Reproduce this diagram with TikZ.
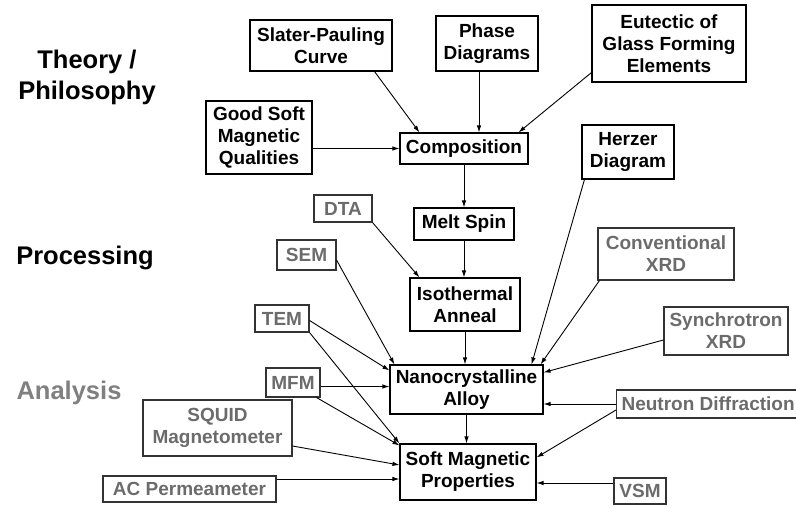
\documentclass[tikz,border=0pt]{standalone}
\usepackage{fontspec}
\setmainfont{Liberation Sans}
\usetikzlibrary{arrows.meta}

\begin{document}
\begin{tikzpicture}[x=1pt, y=-1pt,
  every node/.style={font=\bfseries\fontsize{19}{22}\selectfont},
  blk/.style={draw, line width=1.1pt, align=center, inner sep=1pt},
  ana/.style={blk, draw=black!80, text=black!58},
  lab/.style={align=center, font=\bfseries\fontsize{25.5}{31}\selectfont},
  arr/.style={-{Latex[length=7pt,width=4.5pt]}, line width=0.9pt}]
  \useasboundingbox (0,0) rectangle (796,507);
  % Stage labels
  \node[lab] (theory) at (87,77) {Theory /\\Philosophy};
  \node[lab] (proc) at (85,258) {Processing};
  \node[lab, text=black!50] (anal) at (69,393) {Analysis};
  % Theory and processing boxes
  \node[blk, minimum width=142, minimum height=51] (slater) at (321,45.5) {Slater-Pauling\\Curve};
  \node[blk, minimum width=102, minimum height=55] (phase) at (487,43.5) {Phase\\Diagrams};
  \node[blk, minimum width=154, minimum height=77] (eut) at (669,43.5) {Eutectic of\\Glass Forming\\Elements};
  \node[blk, minimum width=106, minimum height=73] (good) at (259,137.5) {Good Soft\\Magnetic\\Qualities};
  \node[blk, minimum width=128, minimum height=31] (comp) at (464,148.5) {Composition};
  \node[blk, minimum width=92, minimum height=54] (herzer) at (628,152) {Herzer\\Diagram};
  \node[blk, minimum width=100, minimum height=32] (melt) at (464,224) {Melt Spin};
  \node[blk, minimum width=110, minimum height=53] (iso) at (465,304.5) {Isothermal\\Anneal};
  \node[blk, minimum width=153, minimum height=49] (nano) at (466.5,389.5) {Nanocrystalline\\Alloy};
  \node[blk, minimum width=136, minimum height=56] (soft) at (468,472) {Soft Magnetic\\Properties};
  % Analysis boxes
  \node[ana, minimum width=58, minimum height=27] (dta) at (343,208.5) {DTA};
  \node[ana, minimum width=59, minimum height=30] (sem) at (306.5,255) {SEM};
  \node[ana, minimum width=54, minimum height=27] (tem) at (282,318.5) {TEM};
  \node[ana, minimum width=54, minimum height=29] (mfm) at (293,382.5) {MFM};
  \node[ana, minimum width=149, minimum height=56] (squid) at (217.5,428) {SQUID\\Magnetometer};
  \node[ana, minimum width=173, minimum height=26] (ac) at (189.5,489) {AC Permeameter};
  \node[ana, minimum width=136, minimum height=52] (conv) at (666,254) {Conventional\\XRD};
  \node[ana, minimum width=124, minimum height=48] (sync) at (726,331) {Synchrotron\\XRD};
  \node[ana, anchor=west, inner xsep=5pt, minimum height=28] (neut) at (616,404) {Neutron Diffraction};
  \node[ana, minimum width=52, minimum height=26] (vsm) at (640,491) {VSM};
  % Into composition
  \draw[arr] ([xshift=-18pt]slater.south east) -- ([xshift=20pt]comp.north west);
  \draw[arr] ([xshift=-8pt]phase.south) -- ([xshift=15pt]comp.north);
  \draw[arr] ([yshift=10pt]eut.south west) -- ([xshift=-10pt]comp.north east);
  \draw[arr] (good.east |- comp.west) -- (comp.west);
  % Main chain
  \draw[arr] (comp.south) -- (comp.south |- melt.north);
  \draw[arr] (melt.south) -- (melt.south |- iso.north);
  \draw[arr] (iso.south) -- (iso.south |- nano.north);
  \draw[arr] (nano.south) -- (nano.south |- soft.north);
  \draw[arr] (dta.south east) -- ([xshift=10pt]iso.north west);
  % Right side
  \draw[arr] ([xshift=3pt]herzer.south west) -- ([xshift=-12pt]nano.north east);
  \draw[arr] ([xshift=2pt]conv.south west) -- ([xshift=-3pt]nano.north east);
  \draw[arr] ([yshift=-9pt]sync.west) -- ([yshift=-8pt]nano.north east);
  \draw[arr] (neut.west) -- (neut.west -| nano.east);
  \draw[arr] ([yshift=-6pt]neut.west) -- ([yshift=-14pt]soft.north east);
  \coordinate (vsmin) at ([yshift=8pt]vsm.west);
  \draw[arr] (vsmin) -- (vsmin -| soft.east);
  % Left side
  \draw[arr] ([yshift=-5pt]sem.east) -- ([xshift=5pt]nano.north west);
  \draw[arr] ([yshift=-2pt]tem.east) -- ([yshift=-6pt]nano.north west);
  \draw[arr] (tem.south east) -- (soft.north west);
  \coordinate (mfmout) at ([yshift=-4pt]mfm.east);
  \draw[arr] (mfmout) -- (mfmout -| nano.west);
  \draw[arr] ([xshift=-4pt]mfm.south east) -- ([yshift=-2pt]soft.north west);
  \draw[arr] ([yshift=-18pt]squid.east) -- ([yshift=7pt]soft.west);
  \coordinate (acout) at ([yshift=10pt]ac.east);
  \draw[arr] (acout) -- (acout -| soft.west);
\end{tikzpicture}
\end{document}
